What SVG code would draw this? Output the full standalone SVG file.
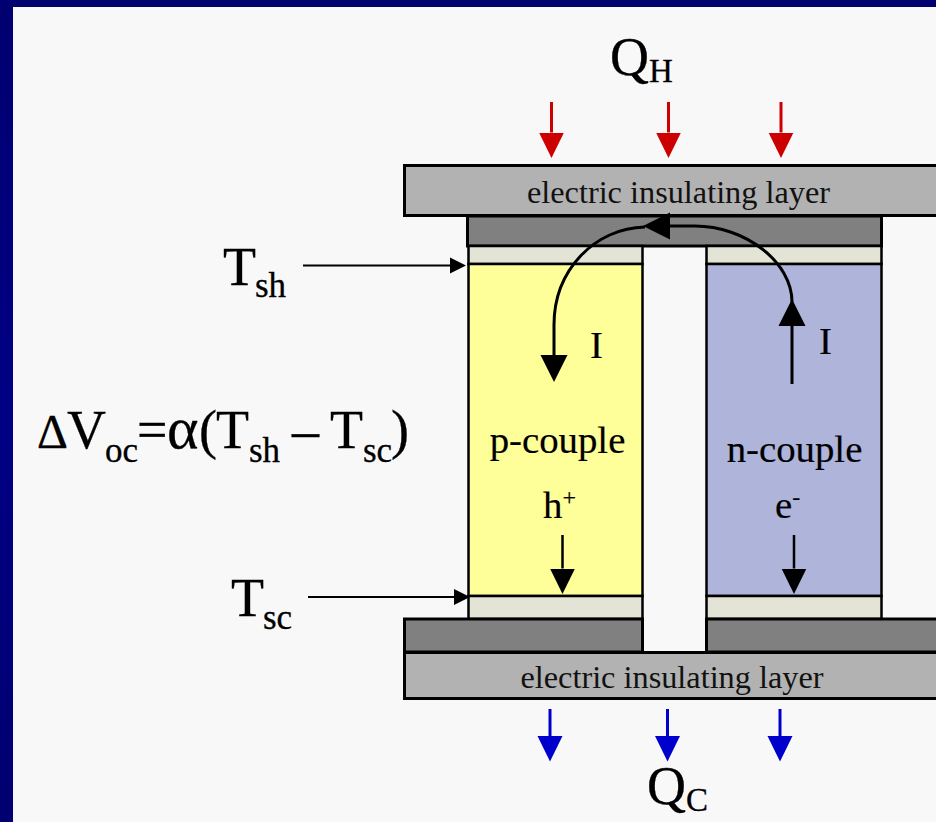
<svg xmlns="http://www.w3.org/2000/svg" width="936" height="822" viewBox="0 0 936 822">
<style>
text{font-family:"Liberation Serif","Times New Roman",serif;fill:#000}
.lbl{font-size:32.300px;fill:#111}
.mid{font-size:38.800px;stroke:#000;stroke-width:.2}
.big{font-size:54px;stroke:#000;stroke-width:.3}
.sub{font-size:35px;stroke:#000;stroke-width:.3}
.box{stroke:#000;stroke-width:2.500}
.ins{fill:#b2b2b2;stroke-width:3}
.cond{fill:#808080;stroke-width:3}
.strip{fill:#e3e4d6}
.conn{fill:none;stroke:#000}
</style>
<defs>
<marker id="hr" markerUnits="userSpaceOnUse" markerWidth="26" markerHeight="26" refX="0" refY="13" orient="auto"><path d="M0 .5L25.500 13L0 25.500Z" fill="#cc0000"/></marker>
<marker id="hb" markerUnits="userSpaceOnUse" markerWidth="26" markerHeight="26" refX="0" refY="13" orient="auto"><path d="M0 .5L25.500 13L0 25.500Z" fill="#0000cc"/></marker>
<marker id="hk" markerUnits="userSpaceOnUse" markerWidth="26" markerHeight="26" refX="0" refY="13" orient="auto"><path d="M0 .5L25.500 13L0 25.500Z" fill="#000"/></marker>
<marker id="hl" markerUnits="userSpaceOnUse" markerWidth="28" markerHeight="28" refX="0" refY="14" orient="auto"><path d="M0 .5L27 14L0 27.500Z" fill="#000"/></marker>
<marker id="hs" markerUnits="userSpaceOnUse" markerWidth="18" markerHeight="18" refX="0" refY="9" orient="auto"><path d="M0 1L16 9L0 17Z" fill="#000"/></marker>
<linearGradient id="frame" x1="0" y1="0" x2="0" y2="1"><stop offset="0" stop-color="#000070"/><stop offset=".5" stop-color="#000085"/><stop offset="1" stop-color="#000070"/></linearGradient>
</defs>
<rect id="frame-bar" width="936" height="822" fill="url(#frame)"/>
<rect id="panel" x="13" y="7" width="923" height="815" fill="#f8f8f8"/>

<g id="top-insulator"><rect class="box ins" x="404.500" y="165.500" width="540" height="50"/><text class="lbl" x="678.500" y="203" text-anchor="middle">electric insulating layer</text></g>
<g id="top-conductor"><rect class="box cond" x="467.500" y="216" width="414" height="30"/></g>
<g id="p-strip-top"><rect class="box strip" x="468.500" y="246" width="174" height="18"/></g>
<g id="n-strip-top"><rect class="box strip" x="706.500" y="246" width="175" height="18"/></g>
<g id="p-couple"><rect class="box" fill="#ffff99" x="468.500" y="264" width="174" height="332"/><text class="mid" x="557.500" y="453" text-anchor="middle">p-couple</text><text class="mid" x="543" y="518">h<tspan font-size="24" dy="-13">+</tspan></text></g>
<g id="n-couple"><rect class="box" fill="#afb4da" x="706.500" y="264" width="175" height="332"/><text class="mid" x="794.500" y="462" text-anchor="middle">n-couple</text><text class="mid" x="775" y="518">e<tspan font-size="24" dy="-13">-</tspan></text></g>
<g id="p-strip-bottom"><rect class="box strip" x="468.500" y="596" width="174" height="23"/></g>
<g id="n-strip-bottom"><rect class="box strip" x="706.500" y="596" width="175" height="23"/></g>
<g id="bottom-conductor-left"><rect class="box cond" x="404.500" y="619" width="238" height="33"/></g>
<g id="bottom-conductor-right"><rect class="box cond" x="706.500" y="619" width="240" height="33"/></g>
<g id="bottom-insulator"><rect class="box ins" x="404.500" y="652.500" width="540" height="46"/><text class="lbl" x="672" y="688" text-anchor="middle">electric insulating layer</text></g>

<g id="connectors">
<g stroke="#cc0000" stroke-width="3" fill="none">
<path d="M551.500 102V132.500" marker-end="url(#hr)"/>
<path d="M668.500 102V132.500" marker-end="url(#hr)"/>
<path d="M781 102V132.500" marker-end="url(#hr)"/>
</g>
<g stroke="#0000cc" stroke-width="3" fill="none">
<path d="M550 709V736" marker-end="url(#hb)"/>
<path d="M667.500 709V736" marker-end="url(#hb)"/>
<path d="M780 709V736" marker-end="url(#hb)"/>
</g>
<path class="conn" stroke-width="2.500" d="M562.500 535V568.500" marker-end="url(#hk)"/>
<path class="conn" stroke-width="2.500" d="M794 535V568.500" marker-end="url(#hk)"/>
<path class="conn" stroke-width="3" d="M792 384V326" marker-end="url(#hl)"/>
<path class="conn" stroke-width="3" d="M792 302C792 262 745 226 695 226H670" marker-end="url(#hl)"/>
<path class="conn" stroke-width="3" d="M645 227C595 228 554 270 554 325V355" marker-end="url(#hl)"/>
<path class="conn" stroke-width="2" d="M303 265.500H450" marker-end="url(#hs)"/>
<path class="conn" stroke-width="2" d="M308 597H454" marker-end="url(#hs)"/>
</g>

<g id="labels">
<text class="big" x="610" y="75">Q<tspan class="sub" x="649" y="82" font-size="33" style="font-size:33px">H</tspan></text>
<text class="big" x="647" y="804">Q<tspan class="sub" x="686" y="811" style="font-size:33px">C</tspan></text>
<text class="big" x="223" y="285">T<tspan class="sub" x="255" y="297">sh</tspan></text>
<text class="big" x="231" y="616">T<tspan class="sub" x="263" y="629">sc</tspan></text>
<text class="big" x="37" y="448"><tspan style="font-size:48px">Δ</tspan><tspan x="67">V</tspan><tspan class="sub" x="105" y="462">oc</tspan><tspan x="137" y="448">=</tspan><tspan x="167" style="font-size:60px">α</tspan><tspan x="199">(</tspan><tspan x="216">T</tspan><tspan class="sub" x="249" y="462">sh</tspan><tspan x="292" y="448">–</tspan><tspan x="330">T</tspan><tspan class="sub" x="363" y="462">sc</tspan><tspan x="391" y="448">)</tspan></text>
<text class="mid" x="590" y="358">I</text>
<text class="mid" x="819" y="354">I</text>
</g>
</svg>
